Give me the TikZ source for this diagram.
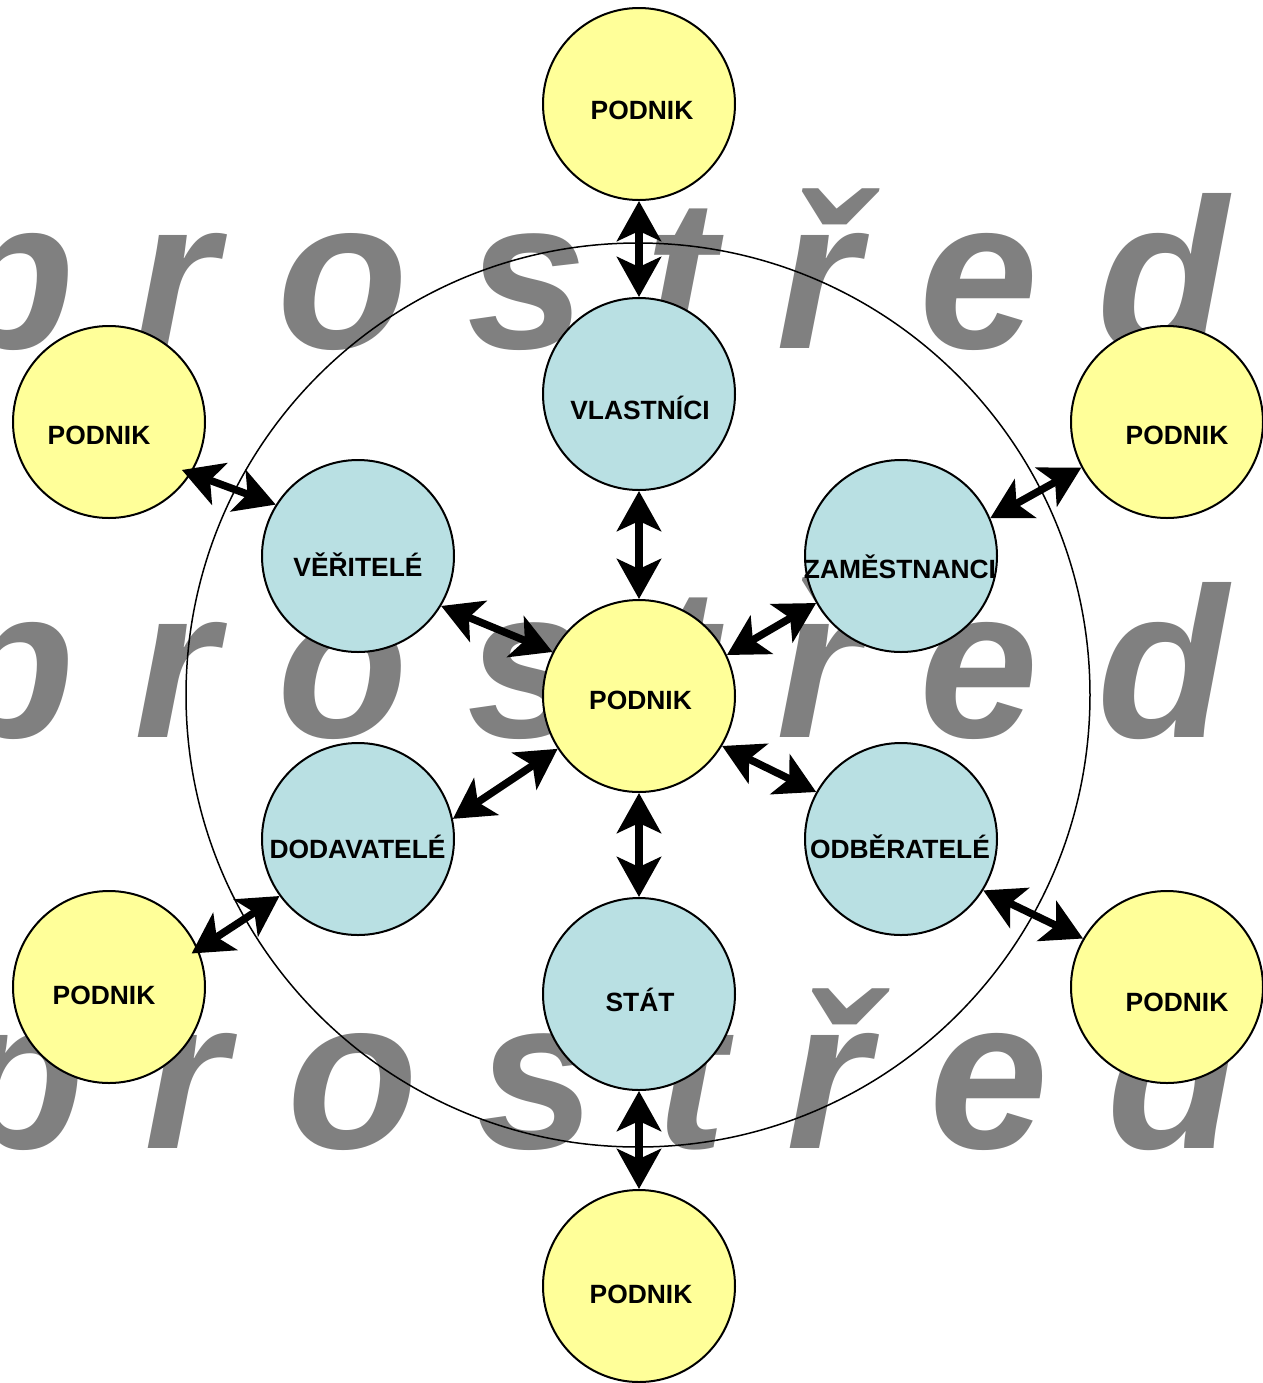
\documentclass[tikz,border=0pt]{standalone}
\usepackage{fontspec}
\setmainfont{Liberation Sans}
\usetikzlibrary{arrows.meta}
\definecolor{firmfill}{HTML}{FFFF99}
\definecolor{groupfill}{HTML}{B9E0E3}
\definecolor{wmgray}{HTML}{808080}
\tikzset{
  firm/.style={circle, draw=black, line width=1pt, fill=firmfill, minimum size=96pt, inner sep=0pt},
  group/.style={firm, fill=groupfill},
  lbl/.style={anchor=base, inner sep=0pt, font=\bfseries\fontsize{13.2}{15}\selectfont},
  tipshape/.tip={Stealth[length=20pt, width=22pt, inset=5pt]},
  link/.style={line width=3.75pt, tipshape-tipshape},
  wmark/.style={anchor=base west, inner sep=0pt, text=wmgray,
    font=\bfseries\itshape\fontsize{107}{120}\selectfont},
  envcircle/.style={circle, draw=black, line width=0.75pt, minimum size=452pt, inner sep=0pt}
}
\begin{document}
\begin{tikzpicture}[x=0.5pt, y=-0.5pt]
\useasboundingbox (0,0) rectangle (1263,1383);

% background word, three rows
\begin{scope}
  \clip (0,0) rectangle (1263,1383);
  \node[wmark] (w1) at (-56,348)  {p r o s t ř e d};
  \node[wmark] (w2) at (-56,737)  {p r o s t ř e d};
  \node[wmark] (w3) at (-46,1148) {p r o s t ř e d};
\end{scope}

% environment boundary
\node[envcircle] (env) at (638,695) {};

% inner ring of stakeholder groups
\node[firm]  (pc)  at (639,696) {};
\node[group] (vl)  at (639,394) {};
\node[group] (ve)  at (358,556) {};
\node[group] (za)  at (901,556) {};
\node[group] (do)  at (358,839) {};
\node[group] (od)  at (901,839) {};
\node[group] (st)  at (639,994) {};

% outer firms
\node[firm] (pt)  at (639,104)  {};
\node[firm] (plt) at (109,422)  {};
\node[firm] (prt) at (1167,422) {};
\node[firm] (plb) at (109,987)  {};
\node[firm] (prb) at (1167,987) {};
\node[firm] (pb)  at (639,1286) {};

% links
\draw[link] (pt.south) -- (vl.north);
\draw[link] (vl.south) -- (pc.north);
\draw[link] (ve.-31.5) -- (pc.153);
\draw[link] (za.209.7) -- (pc.25.5);
\draw[link] (do.12.6)  -- (pc.213.4);
\draw[link] (od.151)   -- (pc.-31);
\draw[link] (pc.south) -- (st.north);
\draw[link] (st.south) -- (pb.north);
\draw[link, shorten <=-5pt] (plt.-32)   -- (ve.148.6);
\draw[link] (prt.-152.9) -- (za.23.7);
\draw[link, shorten >=-4pt] (do.-144.6) -- (plb.23.4);
\draw[link] (od.-32.7)  -- (prb.150.6);

% labels
\node[lbl] (tpt)  at (642,119.5)  {PODNIK};
\node[lbl] (tvl)  at (640,419.5)  {VLASTNÍCI};
\node[lbl] (tplt) at (99,444.5)   {PODNIK};
\node[lbl] (tprt) at (1177,444.5) {PODNIK};
\node[lbl] (tve)  at (358,576.5)  {VĚŘITELÉ};
\node[lbl] (tza)  at (900,578)    {ZAMĚSTNANCI};
\node[lbl] (tpc)  at (640.5,709)  {PODNIK};
\node[lbl] (tdo)  at (357.5,858.5) {DODAVATELÉ};
\node[lbl] (tod)  at (900,858)    {ODBĚRATELÉ};
\node[lbl] (tplb) at (104,1004.5) {PODNIK};
\node[lbl] (tprb) at (1177,1011.5) {PODNIK};
\node[lbl] (tst)  at (640,1011.5) {STÁT};
\node[lbl] (tpb)  at (641,1303.5) {PODNIK};
\end{tikzpicture}
\end{document}
